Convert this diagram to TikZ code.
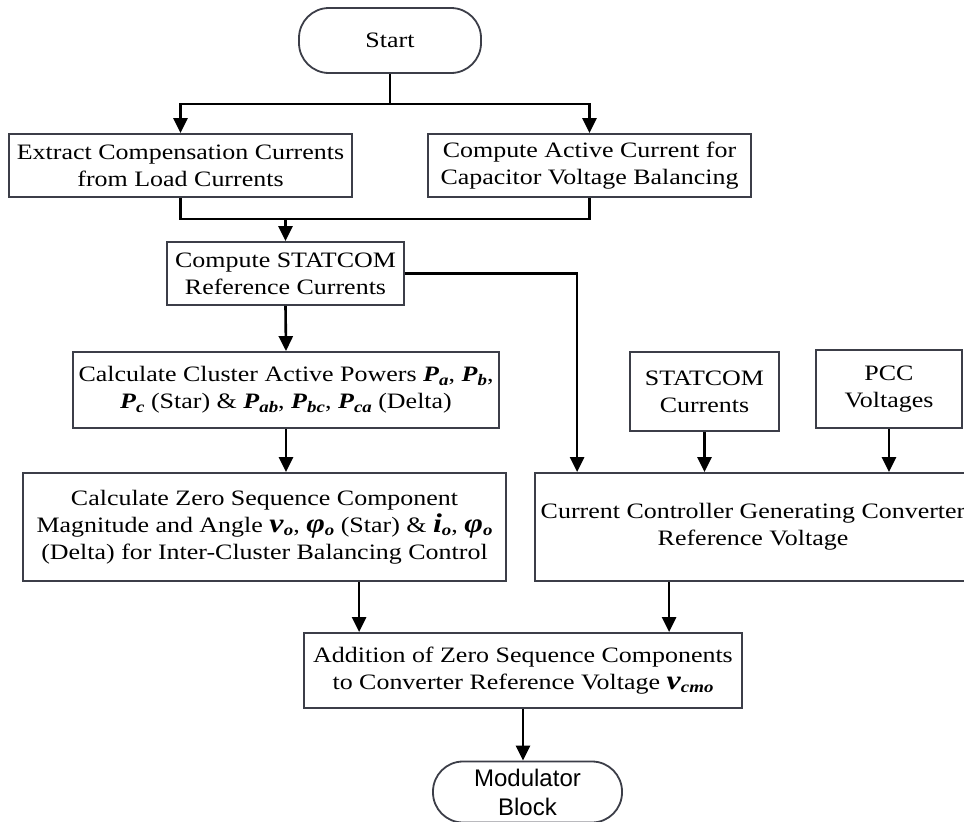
\documentclass[tikz,border=0pt]{standalone}
\usepackage{fontspec}
\setmainfont{Liberation Serif}[FakeStretch=1.18]
\newfontfamily\modfont{Liberation Sans}
\usetikzlibrary{arrows.meta,calc}
\newcommand\bsub[2]{\textbf{\textit{#1}}\raisebox{-0.15em}{\fontsize{16}{16}\selectfont\textbf{\textit{#2}}}}
\newcommand\bbig[2]{{\fontsize{27}{27}\selectfont\textbf{\textit{#1}}}\raisebox{-0.15em}{\fontsize{16}{16}\selectfont\textbf{\textit{#2}}}}
\definecolor{boxline}{HTML}{3C3E48}
\tikzset{
  box/.style={draw=boxline, line width=1.8pt, fill=white, align=center, inner sep=0pt,
    font=\fontsize{22}{27}\selectfont},
  term/.style={box, rounded corners=30pt},
  arr/.style={line width=2.6pt, -{Triangle[length=15pt,width=14pt]}},
  ln/.style={line width=2.6pt}
}
\begin{document}
\begin{tikzpicture}[x=1pt,y=-1pt]
\clip (0,0) rectangle (964,822);
\fill[white] (0,0) rectangle (964,822);
\node[term, minimum width=182pt, minimum height=65pt] (start) at (390,40.5) {Start};
\node[box, minimum width=343pt, minimum height=63pt] (b1) at (180.5,165.5) {Extract Compensation Currents\\from Load Currents};
\node[box, minimum width=323pt, minimum height=63pt] (b2) at (589.5,165.5) {Compute Active Current for\\Capacitor Voltage Balancing};
\node[box, minimum width=237pt, minimum height=63pt] (b3) at (285.5,273.5) {Compute STATCOM\\Reference Currents};
\node[box, minimum width=426pt, minimum height=76pt] (b4) at (286,390) {Calculate Cluster Active Powers \bsub{P}{a}, \bsub{P}{b},\\\bsub{P}{c} (Star) \& \bsub{P}{ab}, \bsub{P}{bc}, \bsub{P}{ca} (Delta)};
\node[box, minimum width=483pt, minimum height=108pt] (b5) at (264.5,527) {Calculate Zero Sequence Component\\Magnitude and Angle \bbig{v}{o}, \bbig{φ}{o} (Star) \& \bbig{i}{o}, \bbig{φ}{o}\\(Delta) for Inter-Cluster Balancing Control};
\node[box, minimum width=149pt, minimum height=79pt] (sc) at (704.5,391.5) {STATCOM\\Currents};
\node[box, minimum width=146pt, minimum height=78pt] (pcc) at (889,389) {PCC\\Voltages};
\node[box, minimum width=436pt, minimum height=108pt] (cc) at (753,527) {Current Controller Generating Converter\\Reference Voltage};
\node[box, minimum width=438pt, minimum height=75pt] (b6) at (523,670.5) {Addition of Zero Sequence Components\\to Converter Reference Voltage \bbig{v}{cmo}};
\node[term, minimum width=189pt, minimum height=61pt, font=\modfont\fontsize{24}{29}\selectfont] (mod) at (527.5,792) {Modulator\\Block};

\draw[ln] (start.south) -- ++(0,30) coordinate (j1);
\draw[arr] (j1) -| (b1.north);
\draw[arr] (j1) -| (b2.north);
\coordinate (j2) at ($(b3.north)+(0,-22)$);
\draw[ln] (b1.south) -- (b1.south |- j2) -- (b2.south |- j2) -- (b2.south);
\draw[arr] (j2) -- (b3.north);
\coordinate (t1) at ($(cc.north west)+(43,0)$);
\draw[arr] (b3.east) -| (t1);
\draw[arr] (b3.south) -- (b4.north);
\draw[arr] (b4.south) -- (b4.south |- b5.north);
\draw[arr] (sc.south) -- (sc.south |- cc.north);
\draw[arr] (pcc.south) -- (pcc.south |- cc.north);
\coordinate (in1) at ($(b6.north west)+(56,0)$);
\coordinate (in2) at ($(b6.north west)+(366,0)$);
\draw[arr] (b5.south -| in1) -- (in1);
\draw[arr] (cc.south -| in2) -- (in2);
\draw[arr] (b6.south) -- (b6.south |- mod.north);
\end{tikzpicture}
\end{document}
